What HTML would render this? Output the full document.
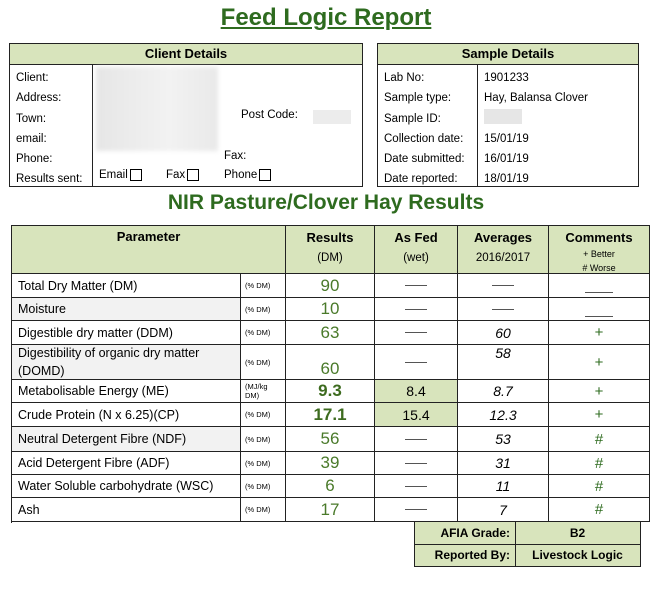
<!DOCTYPE html>
<html><head><meta charset="utf-8">
<style>
*{box-sizing:border-box;margin:0;padding:0}
body{width:660px;height:593px;background:#fff;font-family:"Liberation Sans",sans-serif;color:#000;position:relative;overflow:hidden}
.a{position:absolute}
.t{font-size:11.5px;white-space:nowrap}
.box{position:absolute;border:1.5px solid #222}
.hd{background:#d8e4bc;font-weight:bold;text-align:center;font-size:13px}
.cell{position:absolute;border-right:1px solid #222;border-bottom:1px solid #222;display:flex;align-items:center;justify-content:center;font-size:12px}
.g{color:#4a7a2a;font-size:17px}
.it{font-style:italic;font-size:14px}
.dash{display:inline-block;width:22px;border-top:1.5px solid #555}
.cb{display:inline-block;width:12px;height:12px;border:1px solid #000;vertical-align:middle;margin-left:2px}
</style></head><body>
<div class="a" style="left:0;width:652px;top:4px;text-align:center;font-size:24px;font-weight:bold;color:#2e6b1f;text-decoration:underline">Feed Logic Report</div>

<div class="box" style="left:9px;top:43px;width:354px;height:144px">
 <div class="hd" style="height:21px;line-height:20px;border-bottom:1px solid #222">Client Details</div>
 <div class="a" style="left:82px;top:21px;height:121px;border-left:1px solid #222"></div>
 <div class="a" style="left:86px;top:23px;width:122px;height:84px;background:linear-gradient(90deg,#e6e6e6,#f2f2f2 60%,#e9e9e9);filter:blur(2px)"></div>
 <div class="a t" style="left:6px;top:24px;line-height:20.3px">Client:<br>Address:<br>Town:<br>email:<br>Phone:<br>Results sent:</div>
 <div class="a t" style="left:231px;top:65px">Post Code:</div>
 <div class="a" style="left:303px;top:66px;width:38px;height:14px;background:#ececec"></div>
 <div class="a t" style="left:214px;top:106px">Fax:</div>
 <div class="a t" style="left:89px;top:125px">Email<span class="cb"></span></div>
 <div class="a t" style="left:156px;top:125px">Fax<span class="cb"></span></div>
 <div class="a t" style="left:214px;top:125px">Phone<span class="cb"></span></div>
</div>

<div class="box" style="left:377px;top:43px;width:262px;height:144px">
 <div class="hd" style="height:21px;line-height:20px;border-bottom:1px solid #222">Sample Details</div>
 <div class="a" style="left:99px;top:21px;height:121px;border-left:1px solid #222"></div>
 <div class="a t" style="left:6px;top:24px;line-height:20.3px">Lab No:<br>Sample type:<br>Sample ID:<br>Collection date:<br>Date submitted:<br>Date reported:</div>
 <div class="a t" style="left:106px;top:24px;line-height:20.3px">1901233<br>Hay, Balansa Clover<br>&nbsp;<br>15/01/19<br>16/01/19<br>18/01/19</div>
 <div class="a" style="left:106px;top:65px;width:38px;height:15px;background:#e6e6e6"></div>
</div>

<div class="a" style="left:0;width:652px;top:191px;text-align:center;font-size:21px;font-weight:bold;color:#2e6b1f">NIR Pasture/Clover Hay Results</div>

<div id="tbl" class="a" style="left:11px;top:225px;width:639px;height:298px;border-left:1.5px solid #222;border-top:1.5px solid #222"></div>

<div class="a" style="left:414px;top:522px;width:227px;height:45px;border:1.5px solid #222;border-top:none;background:#d8e4bc;font-weight:bold;font-size:12px">
 <div class="a" style="left:100px;top:0;height:44px;border-left:1.5px solid #222"></div>
 <div class="a" style="left:0;top:22px;width:225px;border-top:1.5px solid #222"></div>
 <div class="a" style="left:0;width:95px;top:4px;text-align:right">AFIA Grade:</div>
 <div class="a" style="left:100px;width:125px;top:4px;text-align:center">B2</div>
 <div class="a" style="left:0;width:95px;top:26px;text-align:right">Reported By:</div>
 <div class="a" style="left:100px;width:125px;top:26px;text-align:center">Livestock Logic</div>
</div>

<script>
const params=["Total Dry Matter (DM)","Moisture","Digestible dry matter (DDM)","Digestibility of organic dry matter (DOMD)","Metabolisable Energy (ME)","Crude Protein (N x 6.25)(CP)","Neutral Detergent Fibre (NDF)","Acid Detergent Fibre (ADF)","Water Soluble carbohydrate (WSC)","Ash"];
const units=["(% DM)","(% DM)","(% DM)","(% DM)","(MJ/kg DM)","(% DM)","(% DM)","(% DM)","(% DM)","(% DM)"];
const results=["90","10","63","60","9.3","17.1","56","39","6","17"];
const asFed=["","","","","8.4","15.4","","","",""];
const averages=["","","60","58","8.7","12.3","53","31","11","7"];
const comments=["_","_","+","+","+","+","#","#","#","#"];
const rowH=[24,23,24,35,23,24,25,23,23,24];
const cols=[0,229,274,363,446,537,638];
const tbl=document.getElementById('tbl');
function cell(x,y,w,h,html,bg,name){const d=document.createElement('div');d.className='cell';
d.style.cssText+=`left:${x}px;top:${y}px;width:${w}px;height:${h}px;`+(bg?`background:${bg};`:'');d.innerHTML=html;


tbl.appendChild(d);return d;}
const HB="#d8e4bc",hh=48;
cell(0,0,cols[2],hh,'<b style="font-size:13px">Parameter</b>',HB,'parameter-header').style.alignItems='flex-start';
tbl.lastChild.style.paddingTop='3px';
const hdrs=[['Results','(DM)'],['As Fed','(wet)'],['Averages','2016/2017']];
for(let i=0;i<3;i++){const c=cell(cols[i+2],0,cols[i+3]-cols[i+2],hh,`<div style="text-align:center;line-height:19px"><b style="font-size:13px">${hdrs[i][0]}</b><br><span style="font-size:11.5px">${hdrs[i][1]}</span></div>`,HB,'column-header');c.style.alignItems='flex-start';c.style.paddingTop='2px';}
{const c=cell(cols[5],0,cols[6]-cols[5],hh,'<div style="text-align:center;line-height:13px"><b style="font-size:13px;line-height:19px">Comments</b><br><span style="font-size:9px">+ Better<br># Worse</span></div>',HB,'comments-header');c.style.alignItems='flex-start';c.style.paddingTop='2px';}
let y=hh;
for(let i=0;i<params.length;i++){const h=rowH[i];
 const grey=(i==1||i==3||i==6)?'#f2f2f2':'';
 const p=cell(0,y,cols[1],h,params[i],grey,'parameter-label');p.style.justifyContent='flex-start';p.style.padding='0 6px';p.style.fontSize='12.5px';p.style.lineHeight='18px';
 const u=cell(cols[1],y,cols[2]-cols[1],h,units[i],'','unit-label');u.style.fontSize='7.5px';u.style.justifyContent='flex-start';u.style.padding='0 4px';
 const bold=(i==4||i==5);
 const r=cell(cols[2],y,cols[3]-cols[2],h,results[i],'','result-value');r.classList.add('g');if(bold){r.style.fontWeight='bold';r.style.color='#3d6b1f';}if(i==3){r.style.alignItems='flex-end';}
 cell(cols[3],y,cols[4]-cols[3],h,asFed[i]?`<span style="font-size:14px">${asFed[i]}</span>`:'<span class="dash"></span>',asFed[i]?HB:'','as-fed-value');
 const a=cell(cols[4],y,cols[5]-cols[4],h,averages[i]?`<span class="it">${averages[i]}</span>`:'<span class="dash"></span>','','average-value');if(i==3)a.style.alignItems='flex-start';
 const cm=comments[i];
 const c=cell(cols[5],y,cols[6]-cols[5],h,cm=='_'?'<span class="dash" style="width:28px;margin-top:14px"></span>':`<span style="color:#2e6b1f;font-size:15px">${cm}</span>`,'','comment-value');
 y+=h;}
</script>
</body></html>
